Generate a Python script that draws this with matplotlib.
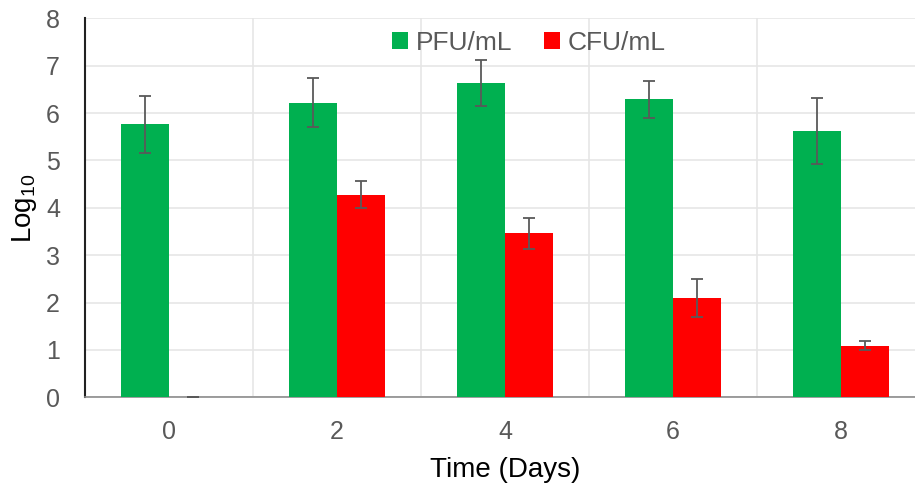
import matplotlib
matplotlib.use('Agg')
import matplotlib.pyplot as plt
import numpy as np

plt.rcParams['font.family'] = ['Liberation Sans', 'DejaVu Sans']
plt.rcParams['mathtext.fontset'] = 'custom'
plt.rcParams['mathtext.rm'] = 'Liberation Sans'

# data
days = ['0', '2', '4', '6', '8']
pfu = [5.76, 6.22, 6.63, 6.29, 5.62]
pfu_err = [0.60, 0.52, 0.48, 0.39, 0.70]
cfu = [0.0, 4.28, 3.46, 2.09, 1.09]
cfu_err = [0.0, 0.28, 0.32, 0.40, 0.10]

green = '#00B050'
red = '#FF0000'
grey = '#595959'

fig = plt.figure(figsize=(9.15, 4.88), dpi=100)
ax = fig.add_axes([85 / 915, 1 - 397.3 / 488, 840 / 915, (397.3 - 18.3) / 488])

x = np.arange(len(days))
w = 0.2857
err_style = dict(ecolor=grey, elinewidth=1.3, capsize=4.5, capthick=1.3)
ax.bar(x - w / 2, pfu, w, color=green, yerr=pfu_err, error_kw=err_style, label='PFU/mL', zorder=3)
ax.bar(x + w / 2, cfu, w, color=red, yerr=cfu_err, error_kw=err_style, label='CFU/mL', zorder=3)

ax.set_xlim(-0.5, len(days) - 0.5)
ax.set_ylim(0, 8)
ax.set_xticks(x)
ax.set_xticklabels(days)
ax.set_yticks(range(0, 9))
ax.set_xticks(np.arange(0.5, len(days) - 0.5, 1), minor=True)
ax.grid(True, axis='y', which='major', color='#e6e6e6', linewidth=1.2, zorder=0)
ax.grid(True, axis='x', which='minor', color='#e6e6e6', linewidth=1.2, zorder=0)
ax.tick_params(axis='both', which='both', length=0, labelsize=18, labelcolor=grey)
ax.tick_params(axis='x', pad=16)
ax.tick_params(axis='y', pad=18)

for s in ['top', 'right']:
    ax.spines[s].set_visible(False)
ax.spines['left'].set_color('#222222')
ax.spines['left'].set_linewidth(1.5)
ax.spines['bottom'].set_color('#8c8c8c')
ax.spines['bottom'].set_linewidth(1.2)

ax.set_xlabel('Time (Days)', fontsize=20, color='black', labelpad=10)
ax.set_ylabel('Log$_{10}$', fontsize=20, color='black', labelpad=5)

fig.legend(loc='center', bbox_to_anchor=(0.578, 0.912), ncol=2, frameon=False,
           fontsize=19, handlelength=0.6, handleheight=0.6, handletextpad=0.3,
           columnspacing=1.2, labelcolor=grey)

fig.savefig('out.png', dpi=100)
